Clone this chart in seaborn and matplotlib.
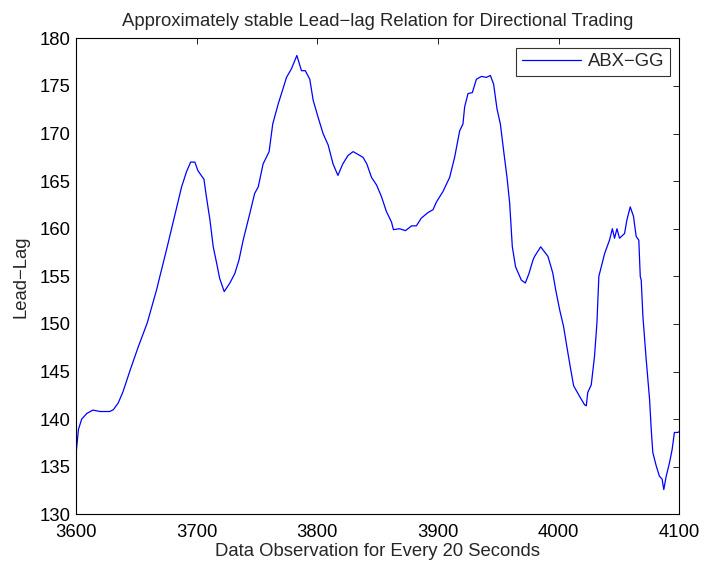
import numpy as np
import pandas as pd
import matplotlib
matplotlib.use("Agg")
import matplotlib.pyplot as plt
import seaborn as sns

# traced series: observation index vs lead-lag value
obs = [3600, 3602, 3604.7, 3609, 3614, 3620, 3628, 3631, 3635, 3639, 3645, 3651.6,
       3659, 3666.8, 3669.5, 3675, 3679, 3683, 3687.5, 3691.6, 3695, 3698.5, 3701,
       3706, 3708, 3711, 3713.7, 3716.5, 3719, 3722.8, 3727.5, 3731.6, 3735, 3738.5,
       3744, 3748, 3751, 3755, 3760, 3763, 3767.5, 3771, 3774.4, 3778.5, 3783,
       3786.8, 3790, 3793.7, 3796.5, 3800.6, 3804.7, 3808.9, 3813, 3817, 3821,
       3825.4, 3829.6, 3833.7, 3837.8, 3841, 3844.8, 3849, 3853, 3857.2, 3861.4,
       3863, 3868, 3873, 3878, 3882, 3886, 3891.6, 3895.8, 3898.6, 3904, 3909.6,
       3913.7, 3917.9, 3920.6, 3922, 3924.8, 3928.4, 3931.7, 3935.9, 3940, 3943.3,
       3946, 3948.8, 3951.6, 3954.3, 3957.1, 3959.3, 3961.5, 3964.2, 3969, 3972.3,
       3975.3, 3978.6, 3980, 3985, 3988, 3991, 3993.8, 3995.1, 3997.4, 4000.7,
       4004, 4006.7, 4009.5, 4012.3, 4017.2, 4021.4, 4022.8, 4024, 4026.9, 4029.6,
       4031.6, 4033.2, 4038, 4042, 4044.4, 4046.2, 4048.2, 4050.3, 4054.5, 4056.4,
       4059.2, 4061.9, 4064.1, 4066.3, 4067.5, 4068.3, 4069.7, 4072.4, 4075.2,
       4076.6, 4077.9, 4080.7, 4083.4, 4085.6, 4087, 4089, 4091.7, 4093.9, 4095.8,
       4098.6, 4100]
lead_lag = [136.3, 138.9, 140.0, 140.6, 140.95, 140.8, 140.8, 141.0, 141.7, 142.9,
            145.2, 147.6, 150.1, 153.6, 155.0, 157.8, 159.9, 162.0, 164.4, 166.0,
            167.0, 167.0, 166.1, 165.2, 163.4, 160.9, 158.1, 156.4, 154.8, 153.4,
            154.3, 155.3, 156.7, 158.8, 161.6, 163.7, 164.4, 166.8, 168.1, 171.0,
            173.1, 174.5, 175.9, 176.8, 178.2, 176.6, 176.6, 175.7, 173.5, 171.7,
            170.0, 168.8, 166.8, 165.6, 166.8, 167.7, 168.1, 167.8, 167.5, 166.8,
            165.4, 164.6, 163.4, 161.8, 160.7, 159.9, 160.0, 159.8, 160.3, 160.3,
            161.1, 161.7, 162.0, 162.8, 163.9, 165.4, 167.5, 170.3, 171.0, 172.8,
            174.2, 174.3, 175.7, 176.0, 175.9, 176.1, 175.2, 172.6, 171.0, 168.2,
            165.4, 162.7, 158.1, 156.0, 154.6, 154.3, 155.3, 156.7, 157.1, 158.1,
            157.6, 157.1, 155.9, 155.3, 153.6, 151.5, 149.7, 147.6, 145.5, 143.5,
            142.4, 141.5, 141.4, 142.8, 143.6, 146.6, 150.1, 155.0, 157.4, 158.8,
            160.0, 159.0, 160.0, 159.0, 159.5, 160.9, 162.3, 161.3, 159.2, 158.8,
            155.0, 154.6, 150.8, 146.3, 142.1, 138.9, 136.5, 135.1, 134.0, 133.7,
            132.6, 134.0, 135.4, 136.8, 138.6, 138.6, 138.7]

df = pd.DataFrame({"obs": obs, "value": lead_lag})

sns.set_style("white")
plt.rcParams["font.family"] = ["Liberation Sans", "DejaVu Sans"]
fs = 13.3

fig = plt.figure(figsize=(7.05, 5.68), dpi=100)
ax = fig.add_axes([0.1078, 0.0945, 0.856, 0.838])
sns.lineplot(data=df, x="obs", y="value", color="#0000ff", linewidth=0.9,
             label="ABX\u2212GG", ax=ax)

ax.set_xlim(3600, 4100)
ax.set_ylim(130, 180)
ax.set_xticks(np.arange(3600, 4101, 100))
ax.set_yticks(np.arange(130, 181, 5))
ax.tick_params(direction="in", length=4.5, width=0.6, top=True, right=True,
               labelsize=fs, colors="black")
ax.tick_params(axis="x", pad=7)
ax.tick_params(axis="y", pad=4)
for s in ax.spines.values():
    s.set_visible(True)
    s.set_color("black")
    s.set_linewidth(0.8)

ax.set_xlabel("Data Observation for Every 20 Seconds", fontsize=fs, labelpad=1.5)
ax.set_ylabel("Lead\u2212Lag", fontsize=fs, labelpad=7)
ax.set_title("Approximately stable Lead\u2212lag Relation for Directional Trading",
             fontsize=fs, pad=9)

leg = ax.legend(loc="upper right", fontsize=fs, frameon=True, fancybox=False,
                borderaxespad=0.5, handlelength=3.2, handletextpad=0.4,
                borderpad=0.3)
leg.get_frame().set_edgecolor("black")
leg.get_frame().set_linewidth(0.8)

fig.savefig("out.png", dpi=100)
